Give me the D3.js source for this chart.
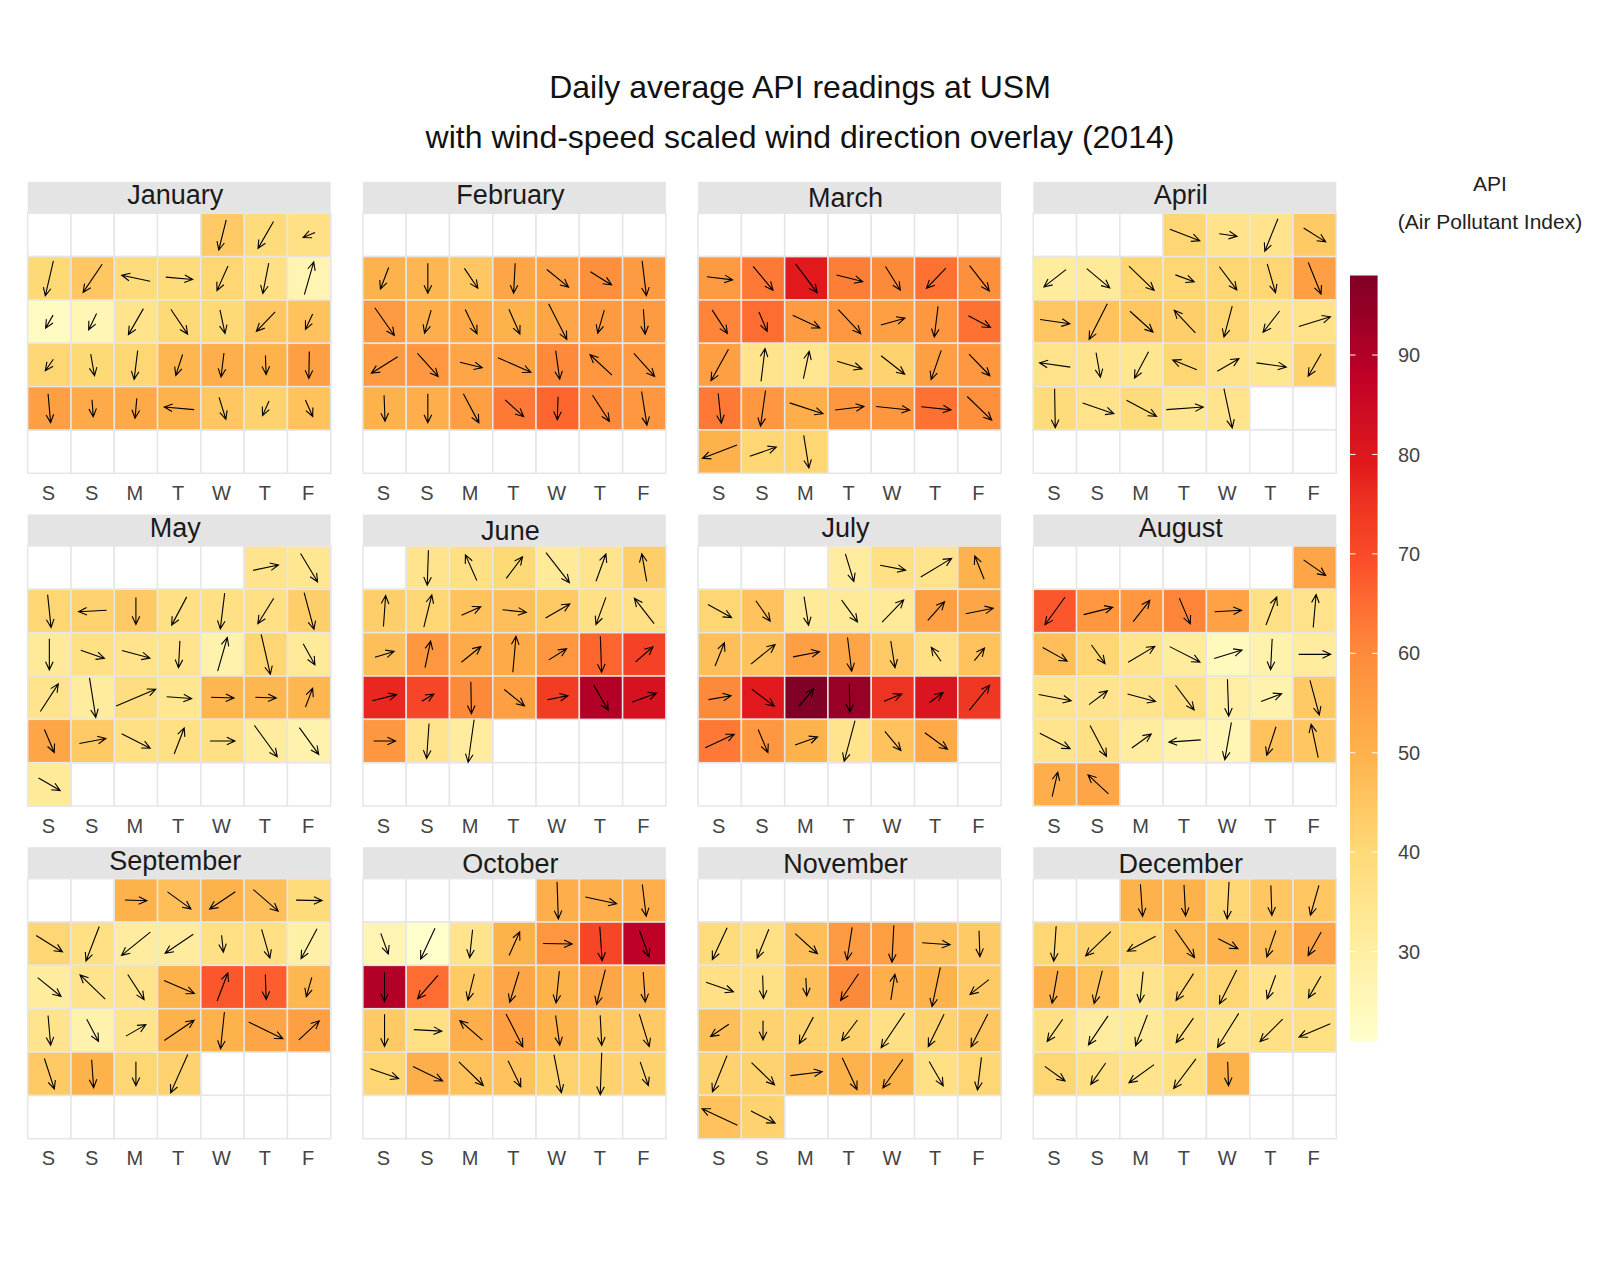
<!DOCTYPE html>
<html>
<head>
<meta charset="utf-8">
<script src="https://cdn.jsdelivr.net/npm/d3@7"></script>
<style>
  body { margin: 0; background: #fff; }
  svg { display: block; font-family: "Liberation Sans", Arial, Helvetica, sans-serif; }
</style>
</head>
<body>
<div id="chart"></div>
<script>
// 2014, one array per month, day 1 first
const monthNames = ["January", "February", "March", "April", "May", "June",
  "July", "August", "September", "October", "November", "December"];
const dayLabels = ["S", "S", "M", "T", "W", "T", "F"]; // week starts on Saturday
const apiTicks = [30, 40, 50, 60, 70, 80, 90];

// daily average API
const api = [
  [44, 39, 37, 40, 45, 39, 39, 41, 37, 27, 23, 26, 35, 40, 40, 45, 46, 41, 40, 41, 49, 51, 50, 55, 55, 52, 52, 50, 45, 42, 46],
  [50, 49, 45, 53, 54, 59, 56, 56, 51, 52, 50, 53, 56, 56, 56, 57, 53, 55, 60, 57, 56, 50, 51, 55, 63, 66, 60, 57],
  [56, 63, 79, 62, 60, 64, 59, 61, 65, 56, 57, 55, 57, 64, 55, 35, 34, 42, 42, 55, 57, 63, 57, 51, 57, 57, 64, 59, 50, 41, 41],
  [41, 36, 35, 44, 31, 32, 41, 41, 41, 41, 55, 45, 46, 45, 43, 41, 35, 36, 36, 35, 34, 41, 36, 34, 42, 39, 36, 39, 34, 35],
  [35, 34, 41, 42, 44, 37, 37, 37, 43, 32, 37, 35, 35, 28, 41, 32, 35, 31, 38, 34, 49, 49, 49, 53, 44, 37, 37, 37, 31, 28, 32],
  [35, 37, 40, 32, 35, 43, 43, 41, 46, 47, 44, 37, 37, 47, 57, 52, 52, 57, 66, 72, 77, 71, 60, 55, 73, 90, 82, 57, 35, 31],
  [31, 37, 35, 50, 41, 46, 32, 32, 32, 55, 53, 47, 46, 55, 53, 44, 37, 46, 60, 79, 98, 94, 75, 81, 74, 63, 57, 50, 35, 46, 52],
  [53, 68, 57, 57, 61, 54, 37, 36, 47, 41, 35, 31, 24, 28, 31, 35, 35, 35, 37, 30, 28, 44, 35, 37, 31, 28, 26, 46, 45, 51, 53],
  [50, 47, 50, 47, 39, 41, 37, 31, 31, 37, 37, 29, 31, 35, 35, 50, 68, 67, 49, 35, 28, 35, 50, 50, 53, 55, 44, 50, 41, 42],
  [51, 51, 51, 27, 21, 35, 50, 57, 71, 88, 90, 65, 44, 53, 50, 53, 50, 44, 37, 51, 55, 50, 44, 44, 41, 51, 46, 46, 42, 42, 42],
  [39, 37, 47, 56, 55, 47, 44, 37, 37, 47, 60, 51, 50, 44, 47, 42, 42, 42, 37, 42, 45, 42, 42, 47, 50, 50, 37, 41, 46, 42],
  [50, 50, 41, 45, 45, 41, 42, 41, 48, 50, 47, 53, 50, 46, 35, 41, 41, 35, 39, 37, 31, 32, 37, 35, 37, 37, 41, 37, 35, 37, 50]
];

// direction the wind blows towards, degrees clockwise from north
const windDir = [
  [194, 210, 247, 193, 214, 282, 95, 204, 191, 16, 210, 206, 210, 146, 168, 224, 205, 215, 170, 187, 198, 187, 178, 181, 175, 176, 185, 275, 163, 204, 156],
  [201, 180, 146, 183, 129, 122, 173, 145, 196, 154, 156, 153, 196, 176, 238, 138, 104, 114, 172, 313, 138, 178, 180, 152, 132, 182, 147, 171],
  [97, 140, 143, 104, 148, 224, 142, 147, 157, 115, 137, 74, 187, 118, 209, 7, 12, 107, 128, 199, 136, 174, 188, 108, 83, 96, 96, 134, 249, 71, 171],
  [111, 98, 202, 122, 232, 130, 134, 110, 143, 164, 158, 98, 207, 132, 317, 195, 218, 73, 278, 170, 208, 292, 60, 98, 210, 179, 109, 118, 86, 168],
  [78, 149, 174, 267, 180, 208, 187, 212, 165, 180, 109, 105, 183, 16, 167, 151, 33, 171, 67, 94, 92, 92, 21, 157, 79, 117, 21, 90, 144, 144, 120],
  [182, 336, 37, 142, 20, 350, 4, 14, 66, 96, 60, 200, 322, 73, 12, 51, 5, 58, 178, 49, 76, 59, 179, 129, 79, 150, 70, 90, 184, 188],
  [163, 101, 59, 338, 119, 145, 171, 144, 44, 42, 79, 22, 51, 79, 173, 171, 325, 39, 80, 127, 40, 179, 68, 53, 39, 65, 157, 70, 195, 140, 126],
  [125, 216, 76, 38, 157, 87, 21, 5, 119, 144, 59, 117, 73, 183, 90, 101, 53, 105, 143, 178, 69, 165, 117, 152, 54, 266, 190, 198, 348, 13, 313],
  [92, 126, 236, 131, 91, 122, 201, 231, 236, 174, 164, 208, 129, 314, 147, 113, 21, 178, 196, 175, 152, 60, 56, 186, 116, 47, 162, 176, 180, 204],
  [178, 102, 173, 160, 205, 186, 24, 91, 176, 160, 180, 221, 194, 197, 186, 194, 176, 180, 93, 311, 153, 172, 177, 163, 109, 116, 134, 154, 169, 182, 161],
  [205, 202, 132, 189, 183, 94, 178, 109, 178, 177, 214, 9, 192, 232, 236, 180, 208, 217, 214, 206, 207, 202, 134, 83, 155, 215, 150, 187, 295, 117],
  [176, 177, 183, 178, 196, 184, 226, 242, 145, 117, 199, 209, 190, 194, 186, 213, 207, 200, 210, 215, 214, 201, 215, 212, 225, 247, 126, 215, 234, 217, 178]
];

// wind speed (m/s)
const windSpeed = [
  [3.1, 3.1, 1.3, 3.6, 3.4, 2.9, 2.7, 2.7, 3.1, 3.4, 1.5, 1.8, 3.0, 3.0, 2.4, 2.7, 1.7, 1.4, 2.2, 2.9, 2.2, 2.4, 1.9, 2.7, 2.9, 1.7, 2.0, 3.0, 2.3, 1.6, 1.8],
  [2.3, 3.0, 2.4, 3.0, 2.8, 2.5, 3.5, 3.4, 2.4, 2.7, 2.7, 4.0, 2.4, 2.5, 3.1, 3.1, 2.3, 3.6, 2.9, 3.0, 3.1, 2.6, 2.9, 3.3, 2.5, 2.3, 3.1, 3.4],
  [2.6, 3.1, 3.6, 2.7, 2.8, 2.8, 3.2, 2.8, 2.1, 3.0, 3.3, 2.5, 3.1, 2.5, 3.6, 3.3, 2.8, 2.6, 3.0, 3.1, 3.0, 3.0, 3.6, 3.5, 2.9, 3.4, 3.0, 3.4, 3.7, 2.8, 3.3],
  [3.2, 1.8, 3.5, 2.6, 2.8, 3.0, 3.5, 2.0, 2.9, 3.0, 3.4, 3.0, 4.0, 3.1, 3.1, 3.2, 2.7, 3.3, 3.1, 2.5, 3.0, 2.6, 2.5, 3.0, 2.6, 3.9, 3.3, 3.4, 3.7, 4.0],
  [2.6, 3.3, 3.3, 2.8, 2.7, 3.2, 3.6, 3.0, 3.8, 3.1, 2.5, 2.9, 2.7, 3.5, 4.1, 2.4, 3.3, 4.0, 4.3, 2.5, 2.3, 2.1, 2.0, 2.5, 2.7, 3.2, 2.8, 2.5, 3.9, 3.3, 2.5],
  [3.5, 2.8, 2.7, 3.8, 2.9, 2.8, 3.1, 3.3, 2.1, 2.4, 2.8, 2.9, 3.2, 2.0, 2.7, 2.5, 3.6, 2.1, 3.6, 2.3, 2.5, 1.4, 3.2, 2.6, 2.1, 2.9, 2.6, 2.2, 3.5, 4.3],
  [2.9, 2.6, 3.6, 2.5, 2.7, 2.5, 2.9, 2.7, 3.1, 2.5, 2.8, 2.5, 3.1, 2.7, 3.4, 2.7, 1.7, 1.6, 2.3, 2.8, 2.3, 2.9, 1.9, 1.7, 3.2, 3.2, 2.5, 2.4, 4.2, 2.5, 2.8],
  [2.7, 3.4, 3.0, 2.7, 2.8, 2.7, 3.0, 3.3, 2.8, 2.3, 3.1, 3.4, 2.9, 3.1, 3.2, 3.3, 2.3, 2.9, 3.1, 3.7, 2.2, 3.6, 3.4, 3.5, 2.4, 3.2, 3.8, 3.0, 3.4, 2.5, 2.8],
  [2.2, 2.9, 3.1, 3.3, 2.6, 3.1, 3.7, 3.7, 3.4, 1.7, 3.0, 3.4, 3.0, 3.5, 3.0, 3.3, 3.0, 2.5, 2.0, 3.0, 2.5, 2.3, 3.6, 3.7, 3.8, 2.8, 3.2, 2.8, 2.4, 4.2],
  [3.7, 3.2, 3.2, 2.2, 3.4, 2.8, 2.6, 2.9, 3.4, 2.8, 2.9, 3.1, 2.7, 3.2, 3.2, 3.6, 3.0, 3.2, 2.8, 3.0, 3.7, 3.0, 3.0, 3.4, 3.0, 3.3, 3.4, 2.9, 3.9, 4.2, 2.5],
  [3.5, 3.1, 3.0, 3.3, 3.7, 2.8, 2.6, 2.9, 2.3, 1.8, 3.2, 2.6, 4.0, 2.4, 2.2, 1.9, 3.0, 2.6, 4.2, 3.6, 3.7, 3.9, 3.2, 3.2, 3.5, 3.5, 2.8, 3.3, 3.9, 2.7],
  [3.2, 3.1, 3.7, 3.0, 3.1, 3.5, 3.5, 3.2, 3.4, 2.2, 2.8, 2.7, 3.3, 3.4, 3.1, 3.2, 3.8, 2.5, 2.5, 2.7, 3.5, 3.3, 3.0, 4.0, 3.2, 3.4, 2.5, 2.6, 3.1, 3.7, 2.4]
];

const ylorrd = ["#ffffcc", "#ffeda0", "#fed976", "#feb24c", "#fd8d3c",
  "#fc4e2a", "#e31a1c", "#bd0026", "#800026"];

const width = 1600;
const height = 1280;
const panelW = 303;
const gridH = 260;
const stripH = 31.5;
const panelLeft = 27.7;
const panelStepX = 335.2;
const gridTop = 213.3;
const panelStepY = 332.7;
const cellStroke = "#e6e6e6";

const days = [];
api.forEach((values, m) => {
  const offset = new Date(2014, m, 1).getDay() + 1;
  values.forEach((v, i) => {
    const d = i + 1;
    days.push({
      month: m,
      day: d,
      api: v,
      dir: windDir[m][i],
      speed: windSpeed[m][i],
      col: (new Date(2014, m, d).getDay() + 1) % 7,
      row: Math.floor((d - 1 + offset) / 7),
    });
  });
});

const extent = d3.extent(days, (d) => d.api);
const color = d3
  .scaleLinear()
  .domain(ylorrd.map((_, i) => extent[0] + (i * (extent[1] - extent[0])) / 8))
  .range(ylorrd)
  .interpolate(d3.interpolateLab);

const x = d3.scaleBand().domain(d3.range(7)).range([0, panelW]);
const y = d3.scaleBand().domain(d3.range(6)).range([0, gridH]);
const arrowLen = d3.scaleLinear().domain([0, 5]).range([0, 50]);

const svg = d3
  .select("#chart")
  .append("svg")
  .attr("width", width)
  .attr("height", height)
  .attr("viewBox", [0, 0, width, height]);

svg.append("rect").attr("width", width).attr("height", height).attr("fill", "#fff");

// title
svg
  .append("g")
  .attr("font-size", 32)
  .attr("fill", "#111")
  .attr("text-anchor", "middle")
  .selectAll("text")
  .data(["Daily average API readings at USM",
    "with wind-speed scaled wind direction overlay (2014)"])
  .join("text")
  .attr("x", 800)
  .attr("y", (_, i) => 98 + i * 49.5)
  .text((d) => d);

const panels = svg
  .selectAll("g.panel")
  .data(monthNames)
  .join("g")
  .attr("class", "panel")
  .attr("transform", (_, m) =>
    `translate(${panelLeft + (m % 4) * panelStepX},${gridTop + Math.floor(m / 4) * panelStepY})`);

// strip
panels
  .append("rect")
  .attr("y", -stripH)
  .attr("width", panelW)
  .attr("height", stripH)
  .attr("fill", "#e4e4e4");

panels
  .append("text")
  .attr("x", panelW / 2 - 4)
  .attr("y", (d) => -stripH / 2 + (/[gjpqy]/.test(d) ? 6.8 : 9.6))
  .attr("text-anchor", "middle")
  .attr("font-size", 27)
  .attr("fill", "#1a1a1a")
  .text((d) => d);

// empty grid
panels
  .append("g")
  .selectAll("rect")
  .data(d3.cross(d3.range(6), d3.range(7)))
  .join("rect")
  .attr("x", ([, c]) => x(c))
  .attr("y", ([r]) => y(r))
  .attr("width", x.bandwidth())
  .attr("height", y.bandwidth())
  .attr("fill", "#fff")
  .attr("stroke", cellStroke)
  .attr("stroke-width", 1.5);

// day tiles
panels
  .append("g")
  .selectAll("rect")
  .data((_, m) => days.filter((d) => d.month === m))
  .join("rect")
  .attr("x", (d) => x(d.col))
  .attr("y", (d) => y(d.row))
  .attr("width", x.bandwidth())
  .attr("height", y.bandwidth())
  .attr("fill", (d) => color(d.api))
  .attr("stroke", cellStroke)
  .attr("stroke-width", 1.5);

// wind arrows, centred on each tile
function arrowPath(d) {
  const cx = x(d.col) + x.bandwidth() / 2;
  const cy = y(d.row) + y.bandwidth() / 2;
  const len = arrowLen(d.speed);
  const a = (d.dir * Math.PI) / 180;
  const ux = Math.sin(a);
  const uy = -Math.cos(a);
  const x0 = cx - (ux * len) / 2, y0 = cy - (uy * len) / 2;
  const x1 = cx + (ux * len) / 2, y1 = cy + (uy * len) / 2;
  const head = 9, spread = (25 * Math.PI) / 180;
  const back = Math.atan2(-uy, -ux);
  const h1 = [x1 + head * Math.cos(back + spread), y1 + head * Math.sin(back + spread)];
  const h2 = [x1 + head * Math.cos(back - spread), y1 + head * Math.sin(back - spread)];
  return `M${x0},${y0}L${x1},${y1}M${h1[0]},${h1[1]}L${x1},${y1}L${h2[0]},${h2[1]}`;
}

panels
  .append("g")
  .selectAll("path")
  .data((_, m) => days.filter((d) => d.month === m))
  .join("path")
  .attr("d", arrowPath)
  .attr("fill", "none")
  .attr("stroke", "#000")
  .attr("stroke-width", 1.1);

// weekday axis
panels
  .append("g")
  .attr("transform", `translate(-1,${gridH})`)
  .call(d3.axisBottom(x).tickSize(0).tickPadding(12.5).tickFormat((i) => dayLabels[i]))
  .call((g) => g.select(".domain").remove())
  .call((g) =>
    g.selectAll("text")
      .attr("font-size", 20)
      .attr("font-family", "Liberation Sans, Arial, sans-serif")
      .attr("fill", "#444"));

// colour legend
const legendX = 1350, legendW = 27.6, legendTop = 275.5, legendBottom = 1041;
const legendY = d3.scaleLinear().domain(extent).range([legendBottom, legendTop]);

const grad = svg
  .append("defs")
  .append("linearGradient")
  .attr("id", "apiGradient")
  .attr("x1", 0).attr("y1", 1).attr("x2", 0).attr("y2", 0);
grad
  .selectAll("stop")
  .data(d3.range(41).map((i) => i / 40))
  .join("stop")
  .attr("offset", (t) => t)
  .attr("stop-color", (t) => color(extent[0] + t * (extent[1] - extent[0])));

const legend = svg.append("g");
legend
  .append("rect")
  .attr("x", legendX)
  .attr("y", legendTop)
  .attr("width", legendW)
  .attr("height", legendBottom - legendTop)
  .attr("fill", "url(#apiGradient)");

legend
  .selectAll("path.tick")
  .data(apiTicks)
  .join("path")
  .attr("class", "tick")
  .attr("d", (v) => {
    const ty = legendY(v);
    return `M${legendX},${ty}h5.5M${legendX + legendW},${ty}h-5.5`;
  })
  .attr("stroke", "#fff")
  .attr("stroke-width", 1);

legend
  .selectAll("text.tick")
  .data(apiTicks)
  .join("text")
  .attr("class", "tick")
  .attr("x", 1398)
  .attr("y", (v) => legendY(v))
  .attr("dy", "0.36em")
  .attr("font-size", 20)
  .attr("fill", "#444")
  .text((v) => v);

legend
  .selectAll("text.title")
  .data(["API", "(Air Pollutant Index)"])
  .join("text")
  .attr("class", "title")
  .attr("x", 1490)
  .attr("y", (_, i) => 191 + i * 37.5)
  .attr("text-anchor", "middle")
  .attr("font-size", 21)
  .attr("fill", "#222")
  .text((d) => d);
</script>
</body>
</html>
